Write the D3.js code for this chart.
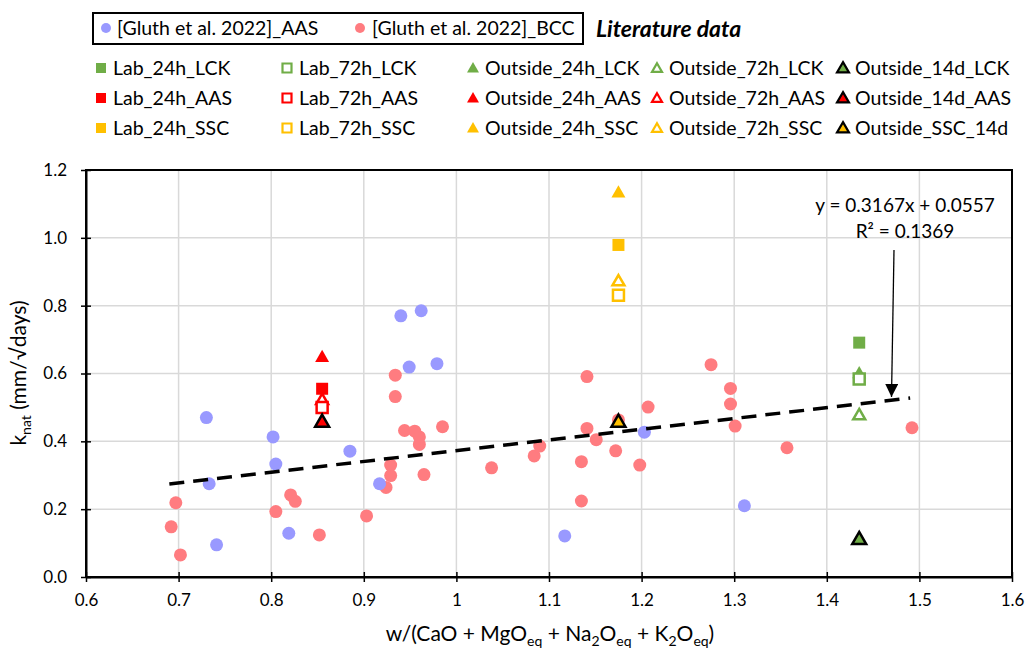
<!DOCTYPE html>
<html><head><meta charset="utf-8">
<script src="https://cdn.jsdelivr.net/npm/d3@7"></script>
<style>body{margin:0;background:#fff} text{font-family:Lato,'Open Sans',sans-serif;fill:#000}</style>
</head><body><svg id="c" width="1029" height="653"></svg>
<script>
// ---- data ----
const xTicks = [0.6,0.7,0.8,0.9,1.0,1.1,1.2,1.3,1.4,1.5,1.6];
const xTickLabels = ["0.6","0.7","0.8","0.9","1","1.1","1.2","1.3","1.4","1.5","1.6"];
const yTicks = [0,0.2,0.4,0.6,0.8,1.0,1.2];
const yTickLabels = ["0.0","0.2","0.4","0.6","0.8","1.0","1.2"];

const gluthAAS = [[0.730,0.470],[0.733,0.275],[0.741,0.095],[0.802,0.413],[0.805,0.333],[0.819,0.129],
  [0.885,0.371],[0.917,0.275],[0.940,0.770],[0.949,0.619],[0.962,0.785],[0.979,0.629],[1.117,0.121],[1.203,0.427],[1.311,0.210]];
const gluthBCC = [[0.692,0.148],[0.697,0.219],[0.702,0.065],[0.805,0.193],[0.821,0.242],[0.826,0.223],[0.852,0.124],
  [0.903,0.180],[0.924,0.264],[0.929,0.330],[0.929,0.299],[0.934,0.595],[0.934,0.532],[0.944,0.432],[0.955,0.430],
  [0.960,0.413],[0.960,0.391],[0.965,0.302],[0.985,0.443],[1.038,0.322],[1.084,0.357],[1.090,0.386],[1.135,0.340],
  [1.135,0.224],[1.141,0.591],[1.141,0.438],[1.151,0.405],[1.172,0.372],[1.175,0.463],[1.198,0.330],[1.207,0.501],
  [1.275,0.626],[1.296,0.556],[1.296,0.510],[1.301,0.445],[1.357,0.381],[1.492,0.440]];

const lab24hLCK = [[1.435,0.691]];
const lab24hAAS = [[0.855,0.555]];
const lab24hSSC = [[1.175,0.979]];
const lab72hLCK = [[1.435,0.584]];
const lab72hAAS = [[0.855,0.500]];
const lab72hSSC = [[1.175,0.831]];
const out24hLCK = [[1.435,0.601]];
const out24hAAS = [[0.855,0.649]];
const out24hSSC = [[1.175,1.134]];
const out72hLCK = [[1.435,0.478]];
const out72hAAS = [[0.855,0.523]];
const out72hSSC = [[1.175,0.873]];
const out14dLCK = [[1.435,0.112]];
const out14dAAS = [[0.855,0.458]];
const out14dSSC = [[1.175,0.458]];

const trendSlope = 0.3167, trendIntercept = 0.0557, trendRange = [0.69, 1.49];

// ---- styles ----
const GREEN="#70AD47", RED="#FF0000", YEL="#FFC000";
const series = [
  {name:"Lab_24h_LCK", data:lab24hLCK, shape:"sq", fill:GREEN, stroke:"none", row:0,col:0},
  {name:"Lab_72h_LCK", data:lab72hLCK, shape:"sq", fill:"#fff", stroke:GREEN, row:0,col:1},
  {name:"Outside_24h_LCK", data:out24hLCK, shape:"tri", fill:GREEN, stroke:"none", row:0,col:2},
  {name:"Outside_72h_LCK", data:out72hLCK, shape:"tri", fill:"#fff", stroke:GREEN, row:0,col:3},
  {name:"Outside_14d_LCK", data:out14dLCK, shape:"tri", fill:GREEN, stroke:"#000", row:0,col:4},
  {name:"Lab_24h_AAS", data:lab24hAAS, shape:"sq", fill:RED, stroke:"none", row:1,col:0},
  {name:"Lab_72h_AAS", data:lab72hAAS, shape:"sq", fill:"#fff", stroke:RED, row:1,col:1},
  {name:"Outside_24h_AAS", data:out24hAAS, shape:"tri", fill:RED, stroke:"none", row:1,col:2},
  {name:"Outside_72h_AAS", data:out72hAAS, shape:"tri", fill:"#fff", stroke:RED, row:1,col:3},
  {name:"Outside_14d_AAS", data:out14dAAS, shape:"tri", fill:RED, stroke:"#000", row:1,col:4},
  {name:"Lab_24h_SSC", data:lab24hSSC, shape:"sq", fill:YEL, stroke:"none", row:2,col:0},
  {name:"Lab_72h_SSC", data:lab72hSSC, shape:"sq", fill:"#fff", stroke:YEL, row:2,col:1},
  {name:"Outside_24h_SSC", data:out24hSSC, shape:"tri", fill:YEL, stroke:"none", row:2,col:2},
  {name:"Outside_72h_SSC", data:out72hSSC, shape:"tri", fill:"#fff", stroke:YEL, row:2,col:3},
  {name:"Outside_SSC_14d", data:out14dSSC, shape:"tri", fill:YEL, stroke:"#000", row:2,col:4},
];

const svg = d3.select("#c");
const W=1029,H=653, m={l:86,r:17,t:170,b:76};
const x = d3.scaleLinear().domain([0.6,1.6]).range([m.l, W-m.r]);
const y = d3.scaleLinear().domain([0,1.2]).range([H-m.b, m.t]);

// grid
svg.append("g").selectAll("line").data(xTicks).join("line")
  .attr("x1",d=>x(d)).attr("x2",d=>x(d)).attr("y1",y(0)).attr("y2",y(1.2))
  .attr("stroke","#d9d9d9").attr("stroke-width",1.5);
svg.append("g").selectAll("line").data(yTicks).join("line")
  .attr("y1",d=>y(d)).attr("y2",d=>y(d)).attr("x1",x(0.6)).attr("x2",x(1.6))
  .attr("stroke","#d9d9d9").attr("stroke-width",1.5);

// frame
svg.append("rect").attr("x",x(0.6)).attr("y",y(1.2)).attr("width",x(1.6)-x(0.6)).attr("height",y(0)-y(1.2))
  .attr("fill","none").attr("stroke","#000").attr("stroke-width",2);

// axes
const xAx = svg.append("g").attr("transform",`translate(0,${y(0)})`)
  .call(d3.axisBottom(x).tickValues(xTicks).tickFormat((d,i)=>xTickLabels[i]).tickSizeInner(5).tickSizeOuter(0).tickPadding(12));
xAx.select(".domain").attr("stroke","#000").attr("stroke-width",2);
xAx.selectAll(".tick line").attr("y1",-5).attr("y2",5).attr("stroke-width",1.5);
xAx.selectAll("text").attr("font-size",17).attr("font-family","Lato");
const yAx = svg.append("g").attr("transform",`translate(${x(0.6)},0)`)
  .call(d3.axisLeft(y).tickValues(yTicks).tickFormat((d,i)=>yTickLabels[i]).tickSizeInner(5).tickSizeOuter(0).tickPadding(14));
yAx.select(".domain").attr("stroke","#000").attr("stroke-width",2);
yAx.selectAll(".tick line").attr("x1",-5).attr("x2",5).attr("stroke-width",1.5);
yAx.selectAll("text").attr("font-size",17).attr("font-family","Lato");

// literature points
svg.append("g").selectAll("circle").data(gluthBCC).join("circle")
  .attr("cx",d=>x(d[0])).attr("cy",d=>y(d[1])).attr("r",6.5).attr("fill","#FF7C80");
svg.append("g").selectAll("circle").data(gluthAAS).join("circle")
  .attr("cx",d=>x(d[0])).attr("cy",d=>y(d[1])).attr("r",6.5).attr("fill","#9999FF");

// trendline
svg.append("line").attr("x1",x(trendRange[0])).attr("y1",y(trendSlope*trendRange[0]+trendIntercept))
  .attr("x2",x(trendRange[1])).attr("y2",y(trendSlope*trendRange[1]+trendIntercept))
  .attr("stroke","#000").attr("stroke-width",3.5).attr("stroke-dasharray","15,9");

// markers
function shapePath(s, size){
  if(s.shape==="sq") return d3.symbol(d3.symbolSquare, size*size)();
  return d3.symbol(d3.symbolTriangle, size*size*0.43)();
}
function drawSeries(s){
  const hollow = s.fill==="#fff";
  const sz = s.shape==="sq" ? (hollow?11:12) : (hollow?12:14);
  svg.append("g").selectAll("path").data(s.data).join("path")
    .attr("d", shapePath(s, sz))
    .attr("transform",d=>`translate(${x(d[0])},${y(d[1]) + (s.shape==="tri"?1:0)})`)
    .attr("fill",s.fill).attr("stroke",s.stroke).attr("stroke-width",2.5).attr("stroke-linejoin","miter");
}
const order = ["Outside_24h","Outside_72h","Lab_24h","Lab_72h","Outside_14d","Outside_SSC"];
order.forEach(p => series.filter(s=>s.name.startsWith(p)).forEach(drawSeries));

// trend annotation
svg.append("defs").append("marker").attr("id","ah").attr("viewBox","0 0 10 10").attr("refX",10).attr("refY",5)
  .attr("markerWidth",13).attr("markerHeight",13).attr("markerUnits","userSpaceOnUse").attr("orient","auto")
  .append("path").attr("d","M0,0L10,5L0,10Z").attr("fill","#000");
svg.append("line").attr("x1",894).attr("y1",250).attr("x2",891.5).attr("y2",397)
  .attr("stroke","#000").attr("stroke-width",1.3).attr("marker-end","url(#ah)");
svg.append("text").attr("x",905).attr("y",212).attr("text-anchor","middle").attr("font-size",19).text("y = 0.3167x + 0.0557");
svg.append("text").attr("x",905).attr("y",238).attr("text-anchor","middle").attr("font-size",19).text("R² = 0.1369");

// axis titles
const xt = svg.append("text").attr("x",550).attr("y",641).attr("text-anchor","middle").attr("font-size",21);
[["w/(CaO + MgO",0],["eq",1],[" + Na",0],["2",1],["O",0],["eq",1],[" + K",0],["2",1],["O",0],["eq",1],[")",0]]
  .forEach(([t,sub],i,arr)=>{
    const prevSub = i>0 ? arr[i-1][1] : 0;
    const dy = sub && !prevSub ? 5 : (!sub && prevSub ? -5 : 0);
    xt.append("tspan").attr("dy",dy).attr("font-size",sub?14:21).text(t);
  });
const yt = svg.append("text").attr("transform","translate(26,373) rotate(-90)").attr("text-anchor","middle").attr("font-size",21);
yt.append("tspan").text("k");
yt.append("tspan").attr("dy",5).attr("font-size",14).text("nat");
yt.append("tspan").attr("dy",-5).text(" (mm/√days)");

// legend
svg.append("rect").attr("x",93).attr("y",13).attr("width",490).attr("height",31).attr("fill","none").attr("stroke","#000").attr("stroke-width",2);
svg.append("circle").attr("cx",106).attr("cy",28).attr("r",5).attr("fill","#9999FF");
svg.append("text").attr("x",117).attr("y",35).attr("font-size",19.5).text("[Gluth et al. 2022]_AAS");
svg.append("circle").attr("cx",360).attr("cy",28).attr("r",5).attr("fill","#FF7C80");
svg.append("text").attr("x",372).attr("y",35).attr("font-size",19.5).text("[Gluth et al. 2022]_BCC");
svg.append("text").attr("x",596).attr("y",37).attr("font-size",23).attr("font-weight","bold").attr("font-style","italic").text("Literature data");

const colX=[101,287,473,657,843], rowY=[68,98,128];
series.forEach(s=>{
  const hollow = s.fill==="#fff";
  const sz = s.shape==="sq" ? (hollow?9:10) : (hollow?10:12);
  svg.append("path").attr("d",shapePath(s,sz))
    .attr("transform",`translate(${colX[s.col]},${rowY[s.row]+(s.shape==="tri"?1:0)})`)
    .attr("fill",s.fill).attr("stroke",s.stroke).attr("stroke-width",2.2);
  svg.append("text").attr("x",colX[s.col]+12).attr("y",rowY[s.row]+7).attr("font-size",19.5).text(s.name);
});
</script></body></html>
